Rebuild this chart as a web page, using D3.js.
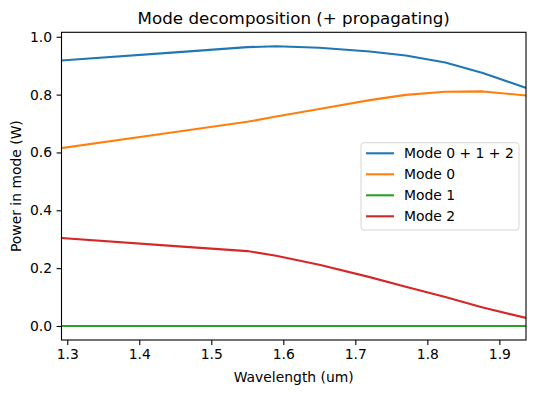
<!DOCTYPE html>
<html>
<head>
<meta charset="utf-8">
<script src="https://cdn.jsdelivr.net/npm/d3@7"></script>
<style>
  body { margin: 0; background: #fff; }
  text { font-family: "DejaVu Sans", sans-serif; fill: #000; }
</style>
</head>
<body>
<div id="chart"></div>
<script>
const width = 536;
const height = 393;

// Data
const wavelength = [1.292, 1.45, 1.55, 1.59, 1.65, 1.72, 1.77, 1.825, 1.877, 1.937];
const modeSum = [0.918, 0.946, 0.964, 0.967, 0.962, 0.949, 0.935, 0.911, 0.875, 0.823];
const mode0 = [0.615, 0.671, 0.706, 0.724, 0.750, 0.781, 0.799, 0.810, 0.811, 0.797];
const mode1 = [0, 0, 0, 0, 0, 0, 0, 0, 0, 0];
const mode2 = [0.304, 0.276, 0.259, 0.243, 0.212, 0.169, 0.136, 0.100, 0.064, 0.028];
const seriesNames = ["Mode 0 + 1 + 2", "Mode 0", "Mode 1", "Mode 2"];
const xTicks = [1.3, 1.4, 1.5, 1.6, 1.7, 1.8, 1.9];
const yTicks = [0.0, 0.2, 0.4, 0.6, 0.8, 1.0];

// Colors (matplotlib tab10)
const colors = ["#1f77b4", "#ff7f0e", "#2ca02c", "#d62728"];

const margin = {left: 61.5, right: 10, top: 32.3, bottom: 53};

const x = d3.scaleLinear()
    .domain([1.292, 1.937])
    .range([margin.left, width - margin.right]);
const y = d3.scaleLinear()
    .domain([-0.0484, 1.0154])
    .range([height - margin.bottom, margin.top]);

const svg = d3.select("#chart").append("svg")
    .attr("width", width)
    .attr("height", height);

// clip the lines to the axes area
svg.append("clipPath").attr("id", "clip")
    .append("rect")
    .attr("x", margin.left)
    .attr("y", margin.top)
    .attr("width", width - margin.right - margin.left)
    .attr("height", height - margin.bottom - margin.top);

const series = [modeSum, mode0, mode1, mode2];
const line = d3.line()
    .x(function (d, i) { return x(wavelength[i]); })
    .y(function (d) { return y(d); });

svg.append("g").attr("clip-path", "url(#clip)")
    .selectAll("path")
    .data(series)
    .enter()
    .append("path")
    .attr("d", line)
    .attr("fill", "none")
    .attr("stroke", function (d, i) { return colors[i]; })
    .attr("stroke-width", 2.1)
    .attr("stroke-linejoin", "round")
    .attr("stroke-linecap", "square");

// Axes
const xAxis = svg.append("g")
    .attr("transform", "translate(0," + (height - margin.bottom) + ")")
    .call(d3.axisBottom(x).tickValues(xTicks).tickFormat(d3.format(".1f")).tickSizeOuter(0).tickSize(4.9).tickPadding(4.5));
const yAxis = svg.append("g")
    .attr("transform", "translate(" + margin.left + ",0)")
    .call(d3.axisLeft(y).tickValues(yTicks).tickFormat(d3.format(".1f")).tickSizeOuter(0).tickSize(4.9).tickPadding(4.5));

[xAxis, yAxis].forEach(function (g) {
    g.select(".domain").remove();
    g.selectAll(".tick line").attr("stroke", "#000").attr("stroke-width", 1.1);
    g.selectAll(".tick text")
        .attr("font-size", "13.9px")
        .attr("font-family", "DejaVu Sans, sans-serif")
        .attr("fill", "#000");
});

// Frame
svg.append("rect")
    .attr("x", margin.left)
    .attr("y", margin.top)
    .attr("width", width - margin.right - margin.left)
    .attr("height", height - margin.bottom - margin.top)
    .attr("fill", "none")
    .attr("stroke", "#000")
    .attr("stroke-width", 1.1);

// Title and labels
svg.append("text")
    .attr("x", (margin.left + width - margin.right) / 2)
    .attr("y", 23.5)
    .attr("text-anchor", "middle")
    .attr("font-size", "16.7px")
    .text("Mode decomposition (+ propagating)");

svg.append("text")
    .attr("x", (margin.left + width - margin.right) / 2)
    .attr("y", 381.5)
    .attr("text-anchor", "middle")
    .attr("font-size", "13.9px")
    .text("Wavelength (um)");

svg.append("text")
    .attr("transform", "translate(21," + ((margin.top + height - margin.bottom) / 2) + ") rotate(-90)")
    .attr("text-anchor", "middle")
    .attr("font-size", "13.9px")
    .text("Power in mode (W)");

// Legend
const legend = svg.append("g").attr("transform", "translate(361,142.7)");
legend.append("rect")
    .attr("width", 158)
    .attr("height", 87.3)
    .attr("rx", 3)
    .attr("fill", "#fff")
    .attr("fill-opacity", 0.8)
    .attr("stroke", "#d6d6d6")
    .attr("stroke-width", 1);

const rows = legend.selectAll("g.row")
    .data(seriesNames)
    .enter()
    .append("g")
    .attr("class", "row")
    .attr("transform", function (d, i) { return "translate(0," + (10.6 + i * 21) + ")"; });

rows.append("line")
    .attr("x1", 5).attr("x2", 33)
    .attr("stroke", function (d, i) { return colors[i]; })
    .attr("stroke-width", 2.1);

rows.append("text")
    .attr("x", 43)
    .attr("dy", "0.36em")
    .attr("font-size", "13.9px")
    .text(function (d) { return d; });
</script>
</body>
</html>
